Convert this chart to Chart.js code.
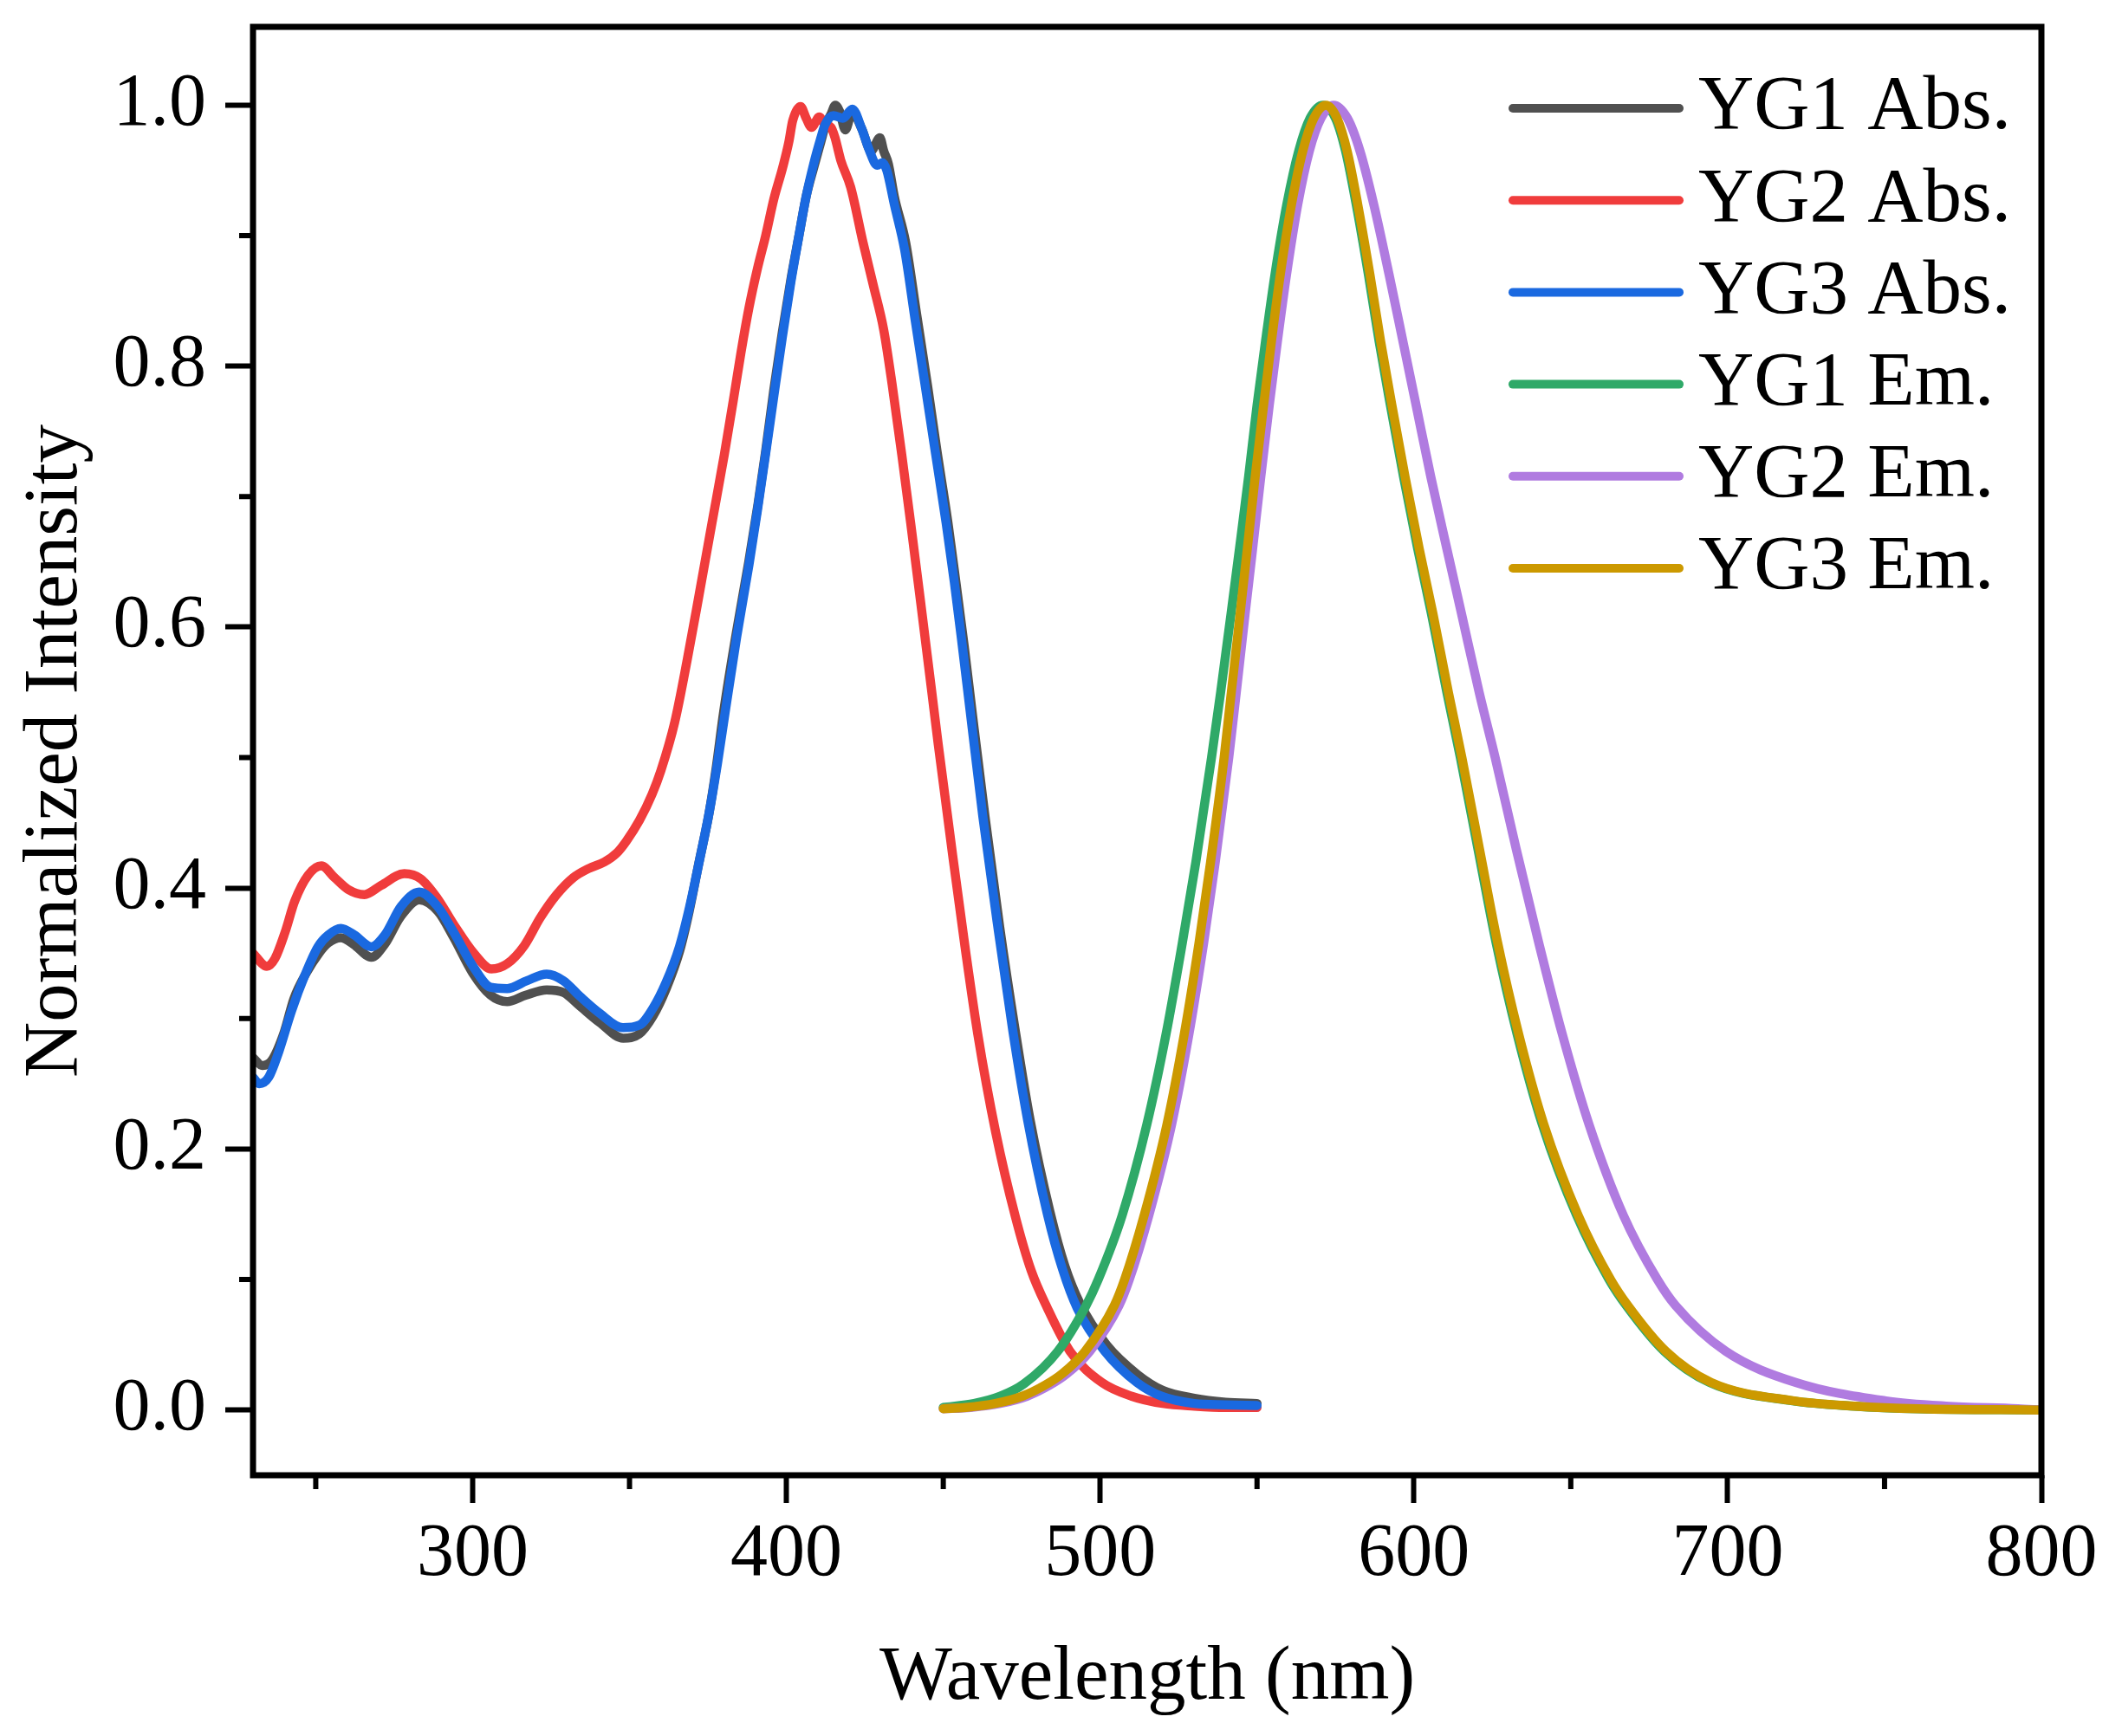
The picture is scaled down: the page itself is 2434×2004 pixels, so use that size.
<!DOCTYPE html>
<html>
<head>
<meta charset="utf-8">
<script src="https://cdn.jsdelivr.net/npm/chart.js@4"></script>
<style>
  html, body { margin: 0; padding: 0; background: #ffffff; }
  #wrap { width: 2434px; height: 2004px; }
</style>
</head>
<body>
<div id="wrap"><canvas id="c" width="2434" height="2004" style="width:2434px;height:2004px"></canvas></div>
<script>
// ---------- data ----------
const seriesNames = ['YG1 Abs.', 'YG2 Abs.', 'YG3 Abs.', 'YG1 Em.', 'YG2 Em.', 'YG3 Em.'];

const yg1AbsX = [230, 233, 236, 240, 243, 247, 251, 254, 258, 262, 267.7, 272, 277, 283, 289, 294, 300, 305.7, 311, 317, 323.6, 329, 334, 340.5, 348, 353, 357.5, 361.7, 366, 369, 372, 375.4, 377.5, 380, 384, 388, 391, 393.4, 396, 398.7, 401.4, 404, 406.3, 408.7, 411, 412.5, 414.2, 415.6, 417, 418.8, 421, 424, 427, 429.8, 431, 432.5, 434.4, 438, 441.5, 445, 448, 451.5, 454, 456.7, 459.2, 463.3, 468, 473, 477.7, 484, 488.8, 493.5, 502, 512, 520, 530, 540, 550];
const yg1AbsY = [0.270, 0.264, 0.268, 0.290, 0.315, 0.335, 0.350, 0.358, 0.362, 0.357, 0.347, 0.357, 0.378, 0.391, 0.382, 0.362, 0.335, 0.318, 0.313, 0.318, 0.322, 0.320, 0.310, 0.297, 0.285, 0.288, 0.302, 0.323, 0.352, 0.382, 0.418, 0.458, 0.490, 0.535, 0.595, 0.650, 0.695, 0.735, 0.782, 0.826, 0.866, 0.900, 0.930, 0.952, 0.972, 0.985, 0.993, 1.000, 0.995, 0.981, 0.995, 0.982, 0.965, 0.975, 0.965, 0.955, 0.930, 0.895, 0.840, 0.785, 0.735, 0.680, 0.635, 0.585, 0.535, 0.455, 0.370, 0.290, 0.222, 0.152, 0.110, 0.082, 0.050, 0.027, 0.015, 0.009, 0.006, 0.005];

const yg2AbsX = [230, 234.4, 237, 240.2, 243.3, 247.6, 251.8, 256, 260.3, 265.5, 270.8, 278.2, 283.5, 288.8, 294, 300.4, 306, 311, 316.5, 321.5, 326.8, 332.1, 337, 342, 346, 349, 353.2, 357.2, 360, 364.4, 368.4, 372.2, 376.3, 380.2, 383.5, 385.5, 388.1, 390.8, 393.4, 396, 398.8, 400.8, 402, 404.5, 406.3, 408, 410.5, 412.3, 414.2, 415.5, 417.3, 420.5, 424.4, 427.7, 431, 433.7, 437, 439.6, 442.9, 446.2, 448.4, 453, 457.1, 461, 466.7, 473, 478, 483.2, 490.4, 500.6, 510, 520, 530, 540, 550];
const yg2AbsY = [0.350, 0.340, 0.346, 0.366, 0.390, 0.410, 0.417, 0.408, 0.399, 0.395, 0.402, 0.411, 0.407, 0.392, 0.372, 0.350, 0.338, 0.342, 0.356, 0.377, 0.395, 0.408, 0.415, 0.420, 0.427, 0.436, 0.452, 0.472, 0.490, 0.527, 0.575, 0.625, 0.680, 0.732, 0.780, 0.810, 0.845, 0.875, 0.900, 0.928, 0.952, 0.972, 0.988, 0.999, 0.990, 0.983, 0.991, 0.985, 0.983, 0.975, 0.958, 0.937, 0.895, 0.862, 0.828, 0.786, 0.728, 0.680, 0.617, 0.553, 0.510, 0.425, 0.352, 0.288, 0.213, 0.148, 0.107, 0.078, 0.045, 0.021, 0.0106, 0.005, 0.003, 0.002, 0.002];

const yg3AbsX = [230, 232, 235, 238, 242.3, 246.5, 250.7, 254, 258, 262.3, 267.7, 272, 277.2, 283, 288.8, 294, 300.4, 305.7, 311, 317.3, 323.6, 328.9, 334.2, 340.5, 347.9, 353.2, 357.5, 361.7, 365.9, 369.1, 372.2, 375.4, 378, 380.5, 384.2, 388.1, 390.8, 393.4, 396, 398.7, 401.4, 404, 406.3, 408.7, 411, 412.3, 415, 418, 421, 424, 426.5, 428.9, 430.6, 432, 434.4, 437.7, 441, 444.3, 447.6, 450.9, 453.5, 456.1, 458.6, 462.6, 467.4, 472.2, 476.9, 483.2, 488, 492.7, 501.5, 511.8, 519.5, 530, 540, 550];
const yg3AbsY = [0.255, 0.250, 0.255, 0.273, 0.306, 0.333, 0.355, 0.364, 0.369, 0.364, 0.355, 0.364, 0.386, 0.397, 0.386, 0.366, 0.339, 0.324, 0.323, 0.329, 0.334, 0.329, 0.317, 0.304, 0.293, 0.295, 0.308, 0.328, 0.355, 0.385, 0.420, 0.458, 0.495, 0.535, 0.593, 0.648, 0.690, 0.733, 0.777, 0.822, 0.864, 0.900, 0.930, 0.955, 0.975, 0.985, 0.992, 0.990, 0.997, 0.982, 0.965, 0.954, 0.956, 0.950, 0.924, 0.889, 0.836, 0.784, 0.732, 0.680, 0.635, 0.585, 0.535, 0.455, 0.370, 0.290, 0.222, 0.150, 0.108, 0.078, 0.045, 0.021, 0.0106, 0.005, 0.004, 0.0035];

const yg1EmX = [450, 459.8, 468.2, 475.7, 486.5, 495.5, 499.4, 507, 514.9, 521, 526.2, 530.5, 535.5, 538.4, 541.7, 544.4, 547.3, 550, 552.7, 555.7, 559.5, 563.3, 566.9, 571, 575, 578.2, 581.6, 585.5, 588.9, 592.5, 596.7, 601.2, 605.6, 610.5, 614.8, 620.4, 626.2, 632.9, 640.9, 651.9, 662.2, 667.7, 679.8, 694.3, 720.7, 740.2, 760.5, 800];
const yg1EmY = [0.002, 0.005, 0.0106, 0.020, 0.045, 0.080, 0.100, 0.149, 0.219, 0.288, 0.358, 0.420, 0.500, 0.550, 0.610, 0.660, 0.715, 0.770, 0.819, 0.870, 0.924, 0.965, 0.990, 1.000, 0.990, 0.965, 0.924, 0.870, 0.819, 0.770, 0.715, 0.660, 0.610, 0.550, 0.500, 0.430, 0.358, 0.288, 0.219, 0.149, 0.100, 0.080, 0.045, 0.021, 0.007, 0.003, 0.001, 0];

const yg2EmX = [450, 458.8, 468.1, 476.7, 483.9, 489.5, 496.7, 506, 509.3, 515.5, 522.8, 528.3, 533, 536.7, 541, 543.4, 546.2, 548.6, 551.2, 553.9, 556.5, 559.4, 563, 566.7, 570.4, 574.4, 578.8, 582.8, 587.2, 592.1, 596.5, 600.7, 605.4, 610.5, 615.2, 620.8, 625.9, 632.6, 639.8, 647.3, 655.8, 666.8, 677.6, 683.4, 699.4, 721.8, 750.4, 769.6, 792.5, 800];
const yg2EmY = [0.001, 0.002, 0.005, 0.0106, 0.019, 0.028, 0.045, 0.080, 0.100, 0.149, 0.219, 0.288, 0.358, 0.420, 0.500, 0.550, 0.610, 0.660, 0.715, 0.770, 0.819, 0.870, 0.924, 0.965, 0.990, 1.000, 0.990, 0.965, 0.924, 0.870, 0.819, 0.770, 0.715, 0.660, 0.610, 0.550, 0.500, 0.430, 0.358, 0.288, 0.219, 0.149, 0.100, 0.080, 0.045, 0.021, 0.007, 0.003, 0.001, 0];

const yg3EmX = [450, 457.3, 466.6, 475.2, 482.4, 488, 495.2, 504.5, 507.8, 514, 521.3, 526.8, 531.5, 535.2, 539.5, 541.8, 544.6, 546.9, 549.4, 552.1, 554.6, 557.4, 561, 564.6, 568.1, 572, 575.5, 578.7, 582.1, 586, 589.4, 593, 597.2, 601.7, 606.1, 611, 615.3, 620.9, 626.7, 633.4, 641.4, 652.4, 662.7, 668.2, 680.3, 694.8, 721.2, 740.7, 761, 800];
const yg3EmY = [0.001, 0.002, 0.005, 0.0106, 0.019, 0.028, 0.045, 0.080, 0.100, 0.149, 0.219, 0.288, 0.358, 0.420, 0.500, 0.550, 0.610, 0.660, 0.715, 0.770, 0.819, 0.870, 0.924, 0.965, 0.990, 1.000, 0.990, 0.965, 0.924, 0.870, 0.819, 0.770, 0.715, 0.660, 0.610, 0.550, 0.500, 0.430, 0.358, 0.288, 0.219, 0.149, 0.100, 0.080, 0.045, 0.021, 0.007, 0.003, 0.001, 0];

const xMajorTicks = [300, 400, 500, 600, 700, 800];
const xMinorTicks = [250, 350, 450, 550, 650, 750];
const yMajorTicks = [0, 0.2, 0.4, 0.6, 0.8, 1.0];
const yMinorTicks = [0.1, 0.3, 0.5, 0.7, 0.9];

// ---------- styling ----------
const colors = ['#505050', '#f03c3c', '#1a69e0', '#2fa968', '#b07be0', '#cc9900'];
const drawOrder = [6, 5, 4, 3, 2, 1]; // later series drawn on top
const FONT = 'Liberation Serif';

const xs = [yg1AbsX, yg2AbsX, yg3AbsX, yg1EmX, yg2EmX, yg3EmX];
const ys = [yg1AbsY, yg2AbsY, yg3AbsY, yg1EmY, yg2EmY, yg3EmY];

const datasets = seriesNames.map((name, i) => ({
  label: name,
  data: xs[i].map((x, j) => ({ x: x, y: ys[i][j] })),
  borderColor: colors[i],
  backgroundColor: colors[i],
  borderWidth: 10.5,
  borderCapStyle: 'round',
  borderJoinStyle: 'round',
  pointRadius: 0,
  showLine: true,
  fill: false,
  cubicInterpolationMode: 'monotone',
  order: drawOrder[i]
}));

const framePlugin = {
  id: 'frame',
  afterDatasetsDraw(chart) {
    const { ctx, chartArea: a } = chart;
    const sx = chart.scales.x, sy = chart.scales.y;
    ctx.save();
    ctx.strokeStyle = '#000';
    ctx.lineWidth = 7;
    ctx.strokeRect(a.left, a.top, a.right - a.left, a.bottom - a.top);
    // minor ticks
    ctx.lineWidth = 6;
    ctx.beginPath();
    xMinorTicks.forEach(v => {
      const p = sx.getPixelForValue(v);
      ctx.moveTo(p, a.bottom);
      ctx.lineTo(p, a.bottom + 16);
    });
    yMinorTicks.forEach(v => {
      const p = sy.getPixelForValue(v);
      ctx.moveTo(a.left, p);
      ctx.lineTo(a.left - 16, p);
    });
    ctx.stroke();
    ctx.restore();
  }
};

const legendPlugin = {
  id: 'customLegend',
  afterDraw(chart) {
    const ctx = chart.ctx;
    ctx.save();
    const rowY0 = 125, rowGap = 106.2;
    chart.data.datasets.forEach((ds, i) => {
      const y = rowY0 + i * rowGap;
      ctx.strokeStyle = ds.borderColor;
      ctx.lineWidth = 10;
      ctx.lineCap = 'round';
      ctx.beginPath();
      ctx.moveTo(1746, y);
      ctx.lineTo(1938, y);
      ctx.stroke();
      ctx.fillStyle = '#000';
      ctx.font = '89px "' + FONT + '"';
      ctx.textAlign = 'left';
      ctx.textBaseline = 'middle';
      ctx.fillText(ds.label, 1960, y);
    });
    ctx.restore();
  }
};

const ctx = document.getElementById('c').getContext('2d');
new Chart(ctx, {
  type: 'scatter',
  data: { datasets: datasets },
  options: {
    responsive: false,
    animation: false,
    devicePixelRatio: 1,
    layout: { padding: { left: 0, top: 31, right: 78, bottom: 0 } },
    plugins: { legend: { display: false }, tooltip: { enabled: false } },
    scales: {
      x: {
        type: 'linear',
        position: 'bottom',
        min: 230,
        max: 800,
        afterBuildTicks: s => { s.ticks = xMajorTicks.map(v => ({ value: v })); },
        afterFit: s => { s.height = 301; s.paddingLeft = 0; s.paddingRight = 0; },
        ticks: {
          font: { family: FONT, size: 86 },
          color: '#000',
          padding: 9,
          maxRotation: 0,
          autoSkip: false,
          callback: v => String(v)
        },
        grid: { display: true, drawOnChartArea: false, drawTicks: true, tickLength: 32, tickWidth: 6, tickColor: '#000' },
        border: { display: false },
        title: {
          display: true,
          text: 'Wavelength (nm)',
          font: { family: FONT, size: 89 },
          color: '#000',
          padding: { top: 0, bottom: 13 }
        }
      },
      y: {
        type: 'linear',
        position: 'left',
        min: -0.05,
        max: 1.06,
        afterBuildTicks: s => { s.ticks = yMajorTicks.map(v => ({ value: v })); },
        afterFit: s => { s.width = 292; s.paddingTop = 0; s.paddingBottom = 0; },
        ticks: {
          font: { family: FONT, size: 86 },
          color: '#000',
          padding: 22,
          autoSkip: false,
          callback: v => Number(v).toFixed(1)
        },
        grid: { display: true, drawOnChartArea: false, drawTicks: true, tickLength: 32, tickWidth: 6, tickColor: '#000' },
        border: { display: false },
        title: {
          display: true,
          text: 'Normalized Intensity',
          font: { family: FONT, size: 89 },
          color: '#000',
          padding: { top: 11, bottom: 0 }
        }
      }
    }
  },
  plugins: [framePlugin, legendPlugin]
});
</script>
</body>
</html>
